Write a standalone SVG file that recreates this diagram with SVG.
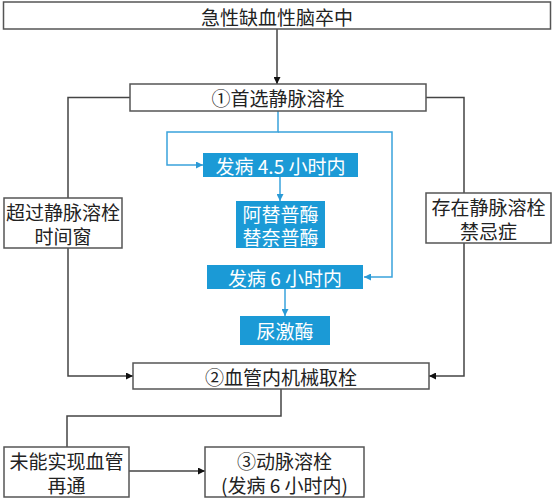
<svg xmlns="http://www.w3.org/2000/svg" width="554" height="500" viewBox="0 0 554 500">
<style>
.box{fill:#fff;stroke:#555;stroke-width:1.5}
.bbox{fill:#1b9ad6;stroke:none}
.t{font-family:"Noto Sans CJK SC","Noto Sans",sans-serif;font-size:19px;fill:#222;text-anchor:middle;dominant-baseline:central}
.w{fill:#fff}
.ln{fill:none;stroke:#444;stroke-width:1.5}
.bl{fill:none;stroke:#3aa3dc;stroke-width:1.5}
</style>
<defs>
<marker id="ah" viewBox="0 0 10 10" refX="10" refY="5" markerWidth="7" markerHeight="7" markerUnits="userSpaceOnUse" orient="auto"><path d="M0,0L10,5L0,10z" fill="#111"/></marker>
<marker id="ab" viewBox="0 0 10 10" refX="10" refY="5" markerWidth="7" markerHeight="7" markerUnits="userSpaceOnUse" orient="auto"><path d="M0,0L10,5L0,10z" fill="#2a9ad6"/></marker>
</defs>
<g id="connectors">
<path class="ln" d="M277,29V84" marker-end="url(#ah)"/>
<path class="ln" d="M130,97.5H68V198"/>
<path class="ln" d="M68,248V376H133" marker-end="url(#ah)"/>
<path class="ln" d="M426,97.5H464V193"/>
<path class="ln" d="M464,243V376H429" marker-end="url(#ah)"/>
<path class="ln" d="M281,389V416H67V447"/>
<path class="ln" d="M129,471H205" marker-end="url(#ah)"/>
<path class="bl" d="M278,111V132H167V165H203" marker-end="url(#ab)"/>
<path class="bl" d="M278,132H392V277H364" marker-end="url(#ab)"/>
<path class="bl" d="M280,177V201" marker-end="url(#ab)"/>
<path class="bl" d="M285,289V316" marker-end="url(#ab)"/>
</g>
<g id="n1"><rect class="box" x="3.5" y="2" width="547" height="27"/><text class="t" x="277" y="16">急性缺血性脑卒中</text></g>
<g id="n2"><rect class="box" x="130" y="84" width="296" height="27"/><text class="t" x="278" y="97.5">①首选静脉溶栓</text></g>
<g id="n3"><rect class="box" x="4" y="198" width="118" height="50"/><text class="t" x="63" y="211.5">超过静脉溶栓<tspan x="63" dy="23.5">时间窗</tspan></text></g>
<g id="n4"><rect class="box" x="426" y="193" width="125" height="50"/><text class="t" x="488.5" y="206.5">存在静脉溶栓<tspan x="488.5" dy="23.5">禁忌症</tspan></text></g>
<g id="n5"><rect class="bbox" x="203" y="153" width="155" height="24"/><text class="t w" x="280.5" y="165">发病 4.5 小时内</text></g>
<g id="n6"><rect class="bbox" x="236" y="201" width="89" height="47"/><text class="t w" x="280.5" y="213">阿替普酶<tspan x="280.5" dy="23">替奈普酶</tspan></text></g>
<g id="n7"><rect class="bbox" x="207" y="265" width="156" height="24"/><text class="t w" x="285" y="277">发病 6 小时内</text></g>
<g id="n8"><rect class="bbox" x="240" y="316" width="90" height="29"/><text class="t w" x="285" y="330.5">尿激酶</text></g>
<g id="n9"><rect class="box" x="133" y="363" width="296" height="26"/><text class="t" x="281" y="376">②血管内机械取栓</text></g>
<g id="n10"><rect class="box" x="4" y="447" width="125" height="50"/><text class="t" x="66.5" y="460.5">未能实现血管<tspan x="66.5" dy="23.5">再通</tspan></text></g>
<g id="n11"><rect class="box" x="205" y="447" width="159" height="50"/><text class="t" x="284.5" y="460.5">③动脉溶栓<tspan x="284.5" dy="23.5">(发病 6 小时内)</tspan></text></g>
</svg>
